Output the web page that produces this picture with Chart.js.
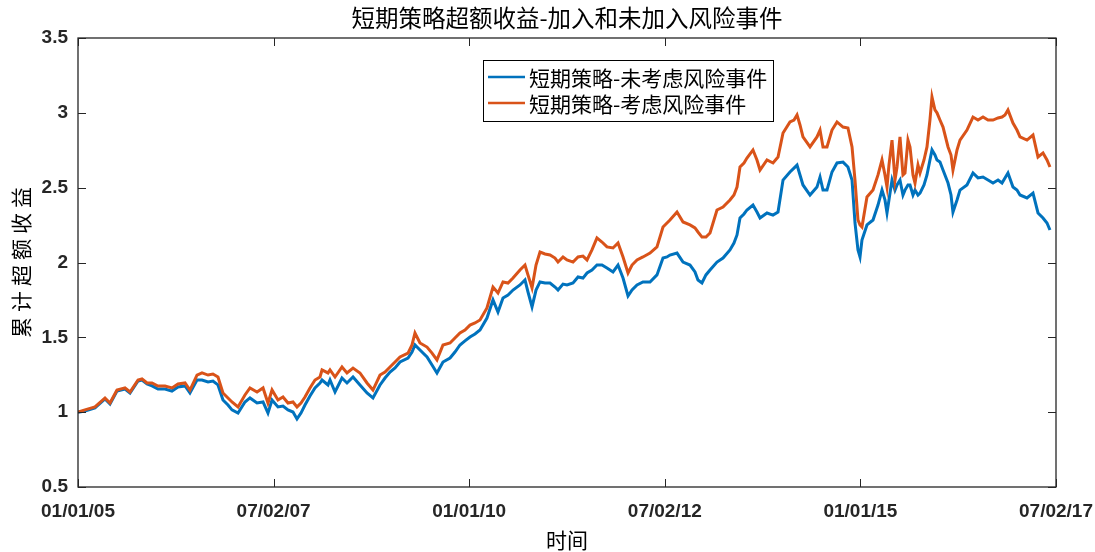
<!DOCTYPE html>
<html><head><meta charset="utf-8">
<script src="https://cdn.jsdelivr.net/npm/chart.js@4.4.0/dist/chart.umd.min.js"></script>
<style>html,body{margin:0;padding:0;background:#fff;}canvas{display:block;}</style>
</head><body>
<canvas id="c" width="1095" height="552"></canvas>
<script>
const dates = [
2005.000,2005.089,2005.217,2005.345,2005.409,2005.498,2005.601,2005.665,2005.767,2005.818,
2005.882,2005.946,2006.022,2006.112,2006.201,2006.278,2006.368,2006.431,2006.521,2006.585,
2006.662,2006.725,2006.789,2006.853,2006.917,2006.968,2007.045,2007.134,2007.198,2007.288,
2007.365,2007.428,2007.480,2007.556,2007.620,2007.684,2007.748,2007.799,2007.850,2007.901,
2007.965,2008.029,2008.093,2008.119,2008.195,2008.221,2008.285,2008.374,2008.438,2008.515,
2008.604,2008.694,2008.770,2008.860,2008.924,2008.988,2009.052,2009.116,2009.218,2009.269,
2009.307,2009.371,2009.461,2009.525,2009.588,2009.665,2009.755,2009.818,2009.882,2009.946,
2010.010,2010.074,2010.138,2010.227,2010.304,2010.368,2010.432,2010.496,2010.560,2010.649,
2010.713,2010.751,2010.803,2010.854,2010.905,2010.969,2011.033,2011.097,2011.135,2011.199,
2011.250,2011.327,2011.391,2011.454,2011.506,2011.569,2011.633,2011.697,2011.761,2011.838,
2011.902,2011.966,2012.030,2012.081,2012.145,2012.221,2012.311,2012.400,2012.477,2012.528,
2012.566,2012.656,2012.733,2012.822,2012.886,2012.924,2012.975,2013.026,2013.078,2013.167,
2013.244,2013.333,2013.384,2013.423,2013.461,2013.512,2013.550,2013.627,2013.678,2013.717,
2013.806,2013.883,2013.947,2014.011,2014.100,2014.151,2014.190,2014.228,2014.266,2014.356,
2014.445,2014.484,2014.522,2014.573,2014.637,2014.701,2014.778,2014.841,2014.893,2014.931,
2014.969,2014.995,2015.020,2015.084,2015.161,2015.225,2015.276,2015.314,2015.340,2015.365,
2015.404,2015.442,2015.468,2015.506,2015.544,2015.570,2015.608,2015.634,2015.672,2015.698,
2015.736,2015.762,2015.813,2015.851,2015.889,2015.915,2015.953,2015.979,2016.017,2016.056,
2016.120,2016.158,2016.183,2016.235,2016.273,2016.362,2016.439,2016.503,2016.567,2016.631,
2016.695,2016.759,2016.810,2016.848,2016.886,2016.950,2017.001,2017.040,2017.129,2017.206,
2017.270,2017.334,2017.385,2017.423
];
// 短期策略-未考虑风险事件 (blue)
const withoutRisk = [
1.00,1.008,1.028,1.088,1.055,1.141,1.155,1.128,1.208,1.215,
1.188,1.175,1.155,1.155,1.141,1.168,1.175,1.128,1.215,1.215,
1.202,1.208,1.182,1.081,1.048,1.015,0.994,1.068,1.095,1.061,
1.068,0.994,1.081,1.035,1.041,1.015,1.001,0.955,0.994,1.048,
1.108,1.162,1.195,1.215,1.182,1.215,1.135,1.228,1.195,1.235,
1.182,1.128,1.095,1.182,1.228,1.268,1.295,1.335,1.362,1.402,
1.449,1.415,1.369,1.315,1.262,1.335,1.362,1.402,1.449,1.476,
1.502,1.522,1.549,1.629,1.750,1.669,1.763,1.783,1.816,1.850,
1.883,1.803,1.703,1.816,1.870,1.863,1.863,1.836,1.816,1.856,
1.850,1.863,1.903,1.896,1.930,1.950,1.983,1.983,1.963,1.937,
1.983,1.896,1.776,1.816,1.850,1.870,1.870,1.917,2.030,2.037,
2.050,2.063,2.003,1.983,1.937,1.883,1.863,1.917,1.950,2.003,
2.030,2.084,2.130,2.184,2.297,2.324,2.351,2.384,2.337,2.297,
2.331,2.317,2.337,2.551,2.605,2.631,2.651,2.585,2.518,2.451,
2.504,2.571,2.484,2.484,2.605,2.665,2.671,2.638,2.551,2.264,
2.084,2.037,2.150,2.251,2.284,2.384,2.484,2.418,2.331,2.418,
2.551,2.484,2.518,2.551,2.451,2.484,2.518,2.518,2.451,2.484,
2.451,2.464,2.518,2.585,2.685,2.752,2.718,2.685,2.671,2.618,
2.531,2.451,2.337,2.418,2.484,2.518,2.598,2.565,2.571,2.551,
2.531,2.551,2.531,2.565,2.598,2.504,2.484,2.451,2.431,2.464,
2.331,2.297,2.264,2.217
];
// 短期策略-考虑风险事件 (orange)
const withRisk = [
1.00,1.015,1.035,1.095,1.061,1.148,1.162,1.135,1.215,1.222,
1.195,1.195,1.175,1.175,1.162,1.188,1.195,1.148,1.248,1.262,
1.248,1.255,1.235,1.128,1.095,1.068,1.035,1.115,1.162,1.135,
1.162,1.061,1.148,1.081,1.101,1.061,1.068,1.035,1.061,1.101,
1.162,1.215,1.235,1.282,1.262,1.282,1.235,1.302,1.262,1.295,
1.262,1.195,1.148,1.248,1.268,1.302,1.335,1.369,1.395,1.449,
1.529,1.462,1.435,1.395,1.349,1.449,1.462,1.496,1.529,1.549,
1.582,1.596,1.616,1.696,1.836,1.796,1.870,1.863,1.896,1.950,
1.983,1.917,1.830,1.983,2.070,2.057,2.050,2.030,2.003,2.037,
2.017,2.003,2.037,2.043,2.017,2.084,2.164,2.137,2.104,2.097,
2.130,2.037,1.930,1.983,2.017,2.037,2.063,2.104,2.237,2.264,
2.284,2.337,2.271,2.251,2.231,2.204,2.170,2.170,2.197,2.351,
2.371,2.418,2.451,2.504,2.638,2.665,2.698,2.752,2.685,2.618,
2.685,2.665,2.705,2.865,2.939,2.952,2.986,2.919,2.839,2.772,
2.839,2.885,2.772,2.772,2.885,2.939,2.905,2.899,2.772,2.551,
2.284,2.251,2.237,2.438,2.484,2.585,2.685,2.585,2.504,2.651,
2.818,2.551,2.638,2.839,2.585,2.598,2.818,2.772,2.585,2.531,
2.651,2.598,2.685,2.772,2.952,3.106,3.019,3.000,2.952,2.905,
2.772,2.718,2.618,2.752,2.818,2.885,2.972,2.952,2.972,2.952,
2.952,2.966,2.972,2.986,3.019,2.932,2.885,2.839,2.818,2.852,
2.705,2.732,2.685,2.638
];
const xTickValues = [2005, 2007.5, 2010, 2012.5, 2015, 2017.5];
const xTickLabels = ['01/01/05','07/02/07','01/01/10','07/02/12','01/01/15','07/02/17'];
const yTickValues = [0.5, 1, 1.5, 2, 2.5, 3, 3.5];
const yTickLabels = ['0.5','1','1.5','2','2.5','3','3.5'];
const seriesNames = ['短期策略-未考虑风险事件', '短期策略-考虑风险事件'];
const seriesColors = ['#0072BD', '#D95319'];
const titleText = '短期策略超额收益-加入和未加入风险事件';
const xTitleText = '时间';
const yTitleText = '累计超额收益';

const CJK = '"Noto Sans CJK SC", "Noto Sans", sans-serif';
const AX = '#262626';

const framePlugin = {
  id: 'frame',
  afterDraw(chart) {
    const {ctx, chartArea: a, scales: {x, y}} = chart;
    ctx.save();
    ctx.strokeStyle = AX; ctx.lineWidth = 1.3;
    ctx.strokeRect(a.left, a.top, a.right - a.left, a.bottom - a.top);
    ctx.lineWidth = 1;
    ctx.beginPath();
    const tl = 8;
    xTickValues.forEach(v => {
      const px = Math.round(x.getPixelForValue(v)) + 0.5;
      ctx.moveTo(px, a.bottom); ctx.lineTo(px, a.bottom - tl);
      ctx.moveTo(px, a.top); ctx.lineTo(px, a.top + tl);
    });
    yTickValues.forEach(v => {
      const py = Math.round(y.getPixelForValue(v)) + 0.5;
      ctx.moveTo(a.left, py); ctx.lineTo(a.left + tl, py);
      ctx.moveTo(a.right, py); ctx.lineTo(a.right - tl, py);
    });
    ctx.stroke();

    // legend
    const lx = 483, ly = 60, lw = 290, lh = 61;
    ctx.fillStyle = '#fff';
    ctx.fillRect(lx, ly, lw, lh);
    ctx.strokeStyle = '#000'; ctx.lineWidth = 1;
    ctx.strokeRect(lx + 0.5, ly + 0.5, lw, lh);
    const rows = [77, 103];
    ctx.font = '21px ' + CJK;
    ctx.textBaseline = 'middle'; ctx.textAlign = 'left';
    seriesNames.forEach((name, i) => {
      ctx.strokeStyle = seriesColors[i]; ctx.lineWidth = 2.6;
      ctx.beginPath(); ctx.moveTo(488, rows[i]); ctx.lineTo(525, rows[i]); ctx.stroke();
      ctx.fillStyle = '#000';
      ctx.fillText(name, 529, rows[i] + 1);
    });

    // title
    ctx.fillStyle = '#000';
    ctx.font = '23.5px ' + CJK;
    ctx.textAlign = 'center'; ctx.textBaseline = 'middle';
    ctx.fillText(titleText, (a.left + a.right) / 2, 18);

    // x title
    ctx.font = '21px ' + CJK;
    ctx.fillText(xTitleText, (a.left + a.right) / 2, 540);

    // y title
    ctx.save();
    ctx.translate(21, (a.top + a.bottom) / 2);
    ctx.rotate(-Math.PI / 2);
    ctx.font = '21px ' + CJK;
    ctx.letterSpacing = '5px';
    ctx.fillText(yTitleText, 2.5, 0);
    ctx.restore();

    ctx.restore();
  }
};

new Chart(document.getElementById('c'), {
  type: 'line',
  data: {
    datasets: [
      { label: seriesNames[0], data: dates.map((d, i) => ({x: d, y: withoutRisk[i]})),
        borderColor: seriesColors[0], borderWidth: 3, pointRadius: 0, tension: 0, order: 2, fill: false },
      { label: seriesNames[1], data: dates.map((d, i) => ({x: d, y: withRisk[i]})),
        borderColor: seriesColors[1], borderWidth: 3, pointRadius: 0, tension: 0, order: 1, fill: false }
    ]
  },
  options: {
    responsive: false, animation: false, events: [],
    layout: { padding: { top: 38, right: 39, left: 0, bottom: 0 } },
    plugins: { legend: { display: false }, tooltip: { enabled: false }, title: { display: false } },
    scales: {
      x: {
        type: 'linear', min: 2005, max: 2017.5,
        grid: { display: false, drawTicks: false }, border: { display: false },
        afterBuildTicks: s => { s.ticks = xTickValues.map(v => ({value: v})); },
        afterFit: s => { s.height = 65; s.paddingLeft = 0; s.paddingRight = 0; },
        ticks: {
          autoSkip: false, maxRotation: 0, padding: 13, color: AX,
          font: { family: '"Liberation Sans", Arial, sans-serif', size: 19, weight: 'bold' },
          callback: (v) => { const i = xTickValues.indexOf(v); return i >= 0 ? xTickLabels[i] : ''; }
        }
      },
      y: {
        min: 0.5, max: 3.5,
        grid: { display: false, drawTicks: false }, border: { display: false },
        afterBuildTicks: s => { s.ticks = yTickValues.map(v => ({value: v})); },
        afterFit: s => { s.width = 78; s.paddingTop = 0; s.paddingBottom = 0; },
        ticks: {
          padding: 10, color: AX,
          font: { family: '"Liberation Sans", Arial, sans-serif', size: 19, weight: 'bold' },
          callback: (v) => { const i = yTickValues.indexOf(v); return i >= 0 ? yTickLabels[i] : ''; }
        }
      }
    }
  },
  plugins: [framePlugin]
});
</script>
</body></html>
